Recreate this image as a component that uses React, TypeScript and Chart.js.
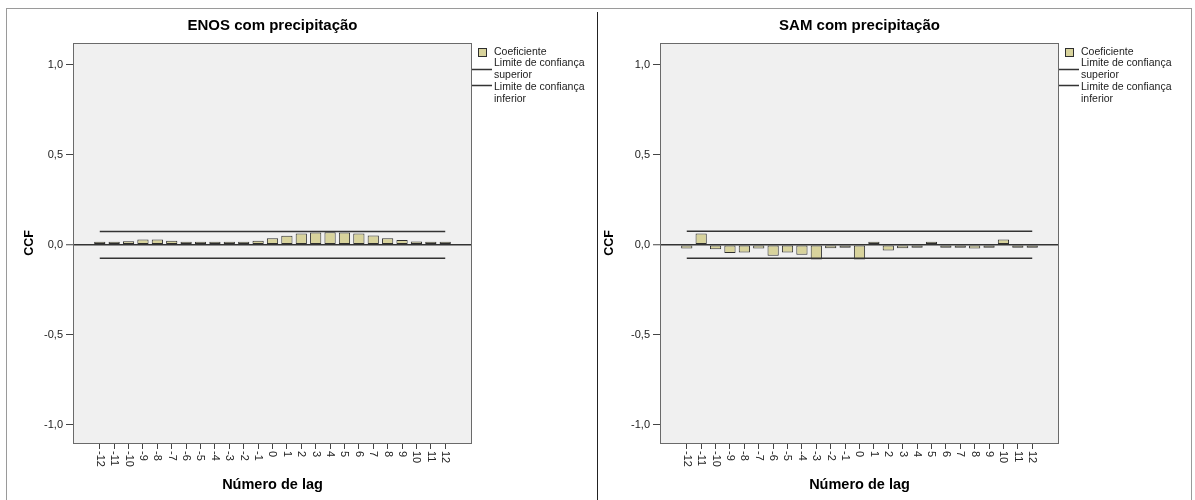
import React, { useEffect, useRef } from "react";
import { Chart, registerables } from "chart.js";

Chart.register(...registerables);

// ---------- data ----------
const lags = [-12, -11, -10, -9, -8, -7, -6, -5, -4, -3, -2, -1, 0, 1, 2, 3, 4, 5, 6, 7, 8, 9, 10, 11, 12];
const lagLabels = ["-12", "-11", "-10", "-9", "-8", "-7", "-6", "-5", "-4", "-3", "-2", "-1", "0", "1", "2", "3", "4", "5", "6", "7", "8", "9", "10", "11", "12"];

const enosCoef = [0.005, 0.01, 0.02, 0.03, 0.03, 0.022, 0.015, 0.011, 0.013, 0.013, 0.015, 0.022, 0.037, 0.05, 0.063, 0.068, 0.07, 0.068, 0.063, 0.052, 0.037, 0.026, 0.019, 0.011, 0.007];
const enosUpper = 0.074;
const enosLower = -0.074;

const samCoef = [-0.02, 0.063, -0.024, -0.046, -0.043, -0.02, -0.061, -0.043, -0.055, -0.081, -0.019, -0.003, -0.081, 0.011, -0.031, -0.019, -0.015, 0.007, -0.004, -0.004, -0.02, -0.016, 0.03, -0.005, -0.005];
const samUpper = 0.075;
const samLower = -0.075;

const yTicks = [-1, -0.5, 0, 0.5, 1];
const yTickLabels = ["-1,0", "-0,5", "0,0", "0,5", "1,0"];

const legendCoef = "Coeficiente";
const legendUpper = ["Limite de confiança", "superior"];
const legendLower = ["Limite de confiança", "inferior"];

const FONT = 'Arial, "Liberation Sans", sans-serif';
const BAR_FILL = "#d8d39c";
const BAR_EDGE = "#2f2f2f";
const LINE_COL = "#333333";

// ---------- plugin ----------
const panelPlugin = {
  id: "panel",
  beforeDraw(chart: any) {
    const { ctx, chartArea: a } = chart;
    ctx.save();
    ctx.fillStyle = "#f0f0f0";
    ctx.fillRect(a.left, a.top, a.right - a.left, a.bottom - a.top);
    ctx.restore();
  },
  afterDraw(chart: any, _args: any, opts: any) {
    const { ctx, chartArea: a } = chart;
    const xs = chart.scales.x;
    ctx.save();
    // plot border
    ctx.strokeStyle = "#6a6a6a";
    ctx.lineWidth = 1;
    ctx.strokeRect(Math.round(a.left) + 0.5, Math.round(a.top) + 0.5, Math.round(a.right - a.left) - 1, Math.round(a.bottom - a.top));

    // title
    ctx.fillStyle = "#000";
    ctx.font = `bold 15px ${FONT}`;
    ctx.textAlign = "center";
    ctx.textBaseline = "middle";
    ctx.fillText(opts.title, (a.left + a.right) / 2, 26);

    // x tick labels rotated clockwise
    ctx.font = `11px ${FONT}`;
    ctx.fillStyle = "#222";
    ctx.textAlign = "left";
    ctx.textBaseline = "middle";
    lags.forEach((v, i) => {
      const px = xs.getPixelForValue(v);
      ctx.save();
      ctx.translate(px, a.bottom + 8);
      ctx.rotate(Math.PI / 2);
      ctx.fillText(lagLabels[i], 0, 0);
      ctx.restore();
    });

    // legend
    const lx = Math.round(a.right);
    ctx.fillStyle = BAR_FILL;
    ctx.fillRect(lx + 6, 48, 9, 9);
    ctx.strokeStyle = BAR_EDGE;
    ctx.strokeRect(lx + 6.5, 48.5, 8, 8);
    ctx.font = `10.5px ${FONT}`;
    ctx.fillStyle = "#222";
    ctx.textAlign = "left";
    ctx.textBaseline = "middle";
    ctx.fillText(legendCoef, lx + 22, 52.5);
    ctx.strokeStyle = LINE_COL;
    ctx.lineWidth = 1.3;
    ctx.beginPath();
    ctx.moveTo(lx, 69.5);
    ctx.lineTo(lx + 20, 69.5);
    ctx.moveTo(lx, 85.5);
    ctx.lineTo(lx + 20, 85.5);
    ctx.stroke();
    ctx.fillText(legendUpper[0], lx + 22, 63.5);
    ctx.fillText(legendUpper[1], lx + 22, 75);
    ctx.fillText(legendLower[0], lx + 22, 87.5);
    ctx.fillText(legendLower[1], lx + 22, 99);
    ctx.restore();
  },
};

function makeConfig(title: string, coef: number[], upper: number, lower: number, padLeft: number, yWidth: number, padRight: number) {
  return {
    type: "bar" as const,
    data: {
      datasets: [
        {
          type: "line" as const,
          label: "upper",
          data: lags.map((x) => ({ x, y: upper })),
          borderColor: LINE_COL,
          borderWidth: 1.5,
          pointRadius: 0,
          order: 0,
        },
        {
          type: "line" as const,
          label: "lower",
          data: lags.map((x) => ({ x, y: lower })),
          borderColor: LINE_COL,
          borderWidth: 1.5,
          pointRadius: 0,
          order: 0,
        },
        {
          type: "bar" as const,
          label: "coef",
          data: lags.map((x, i) => ({ x, y: coef[i] })),
          backgroundColor: BAR_FILL,
          borderColor: BAR_EDGE,
          borderWidth: 1,
          borderSkipped: false,
          barPercentage: 0.78,
          categoryPercentage: 1,
          minBarLength: 3,
          order: 1,
        },
      ],
    },
    options: {
      responsive: false,
      animation: false,
      devicePixelRatio: 1,
      layout: { padding: { left: padLeft, right: padRight, top: 43, bottom: 0 } },
      plugins: {
        legend: { display: false },
        title: { display: false },
        tooltip: { enabled: false },
        panel: { title },
      },
      scales: {
        x: {
          type: "linear",
          min: -13.86,
          max: 13.86,
          offset: false,
          afterBuildTicks: (s: any) => {
            s.ticks = lags.map((v) => ({ value: v }));
          },
          afterFit: (s: any) => {
            s.height = 57;
          },
          ticks: { display: false },
          grid: {
            offset: false,
            drawOnChartArea: false,
            drawTicks: true,
            tickLength: 6,
            tickColor: "#444",
            tickWidth: 1,
          },
          border: { display: false },
          title: {
            display: true,
            text: "Número de lag",
            color: "#000",
            font: { family: FONT, size: 14.5, weight: "bold" },
            padding: { top: 0, bottom: 6 },
          },
        },
        y: {
          min: -1.1,
          max: 1.12,
          afterBuildTicks: (s: any) => {
            s.ticks = yTicks.map((v) => ({ value: v }));
          },
          afterFit: (s: any) => {
            s.width = yWidth;
          },
          ticks: {
            font: { family: FONT, size: 11 },
            color: "#222",
            padding: 3,
            callback: (_v: any, i: number) => yTickLabels[i],
          },
          grid: {
            drawOnChartArea: true,
            drawTicks: true,
            tickLength: 7,
            tickColor: "#444",
            tickWidth: 1,
            color: (c: any) => (c.tick && c.tick.value === 0 ? "#333" : "rgba(0,0,0,0)"),
            lineWidth: (c: any) => (c.tick && c.tick.value === 0 ? 1.5 : 1),
          },
          border: { display: false },
          title: {
            display: true,
            text: "CCF",
            color: "#000",
            font: { family: FONT, size: 12.5, weight: "bold" },
            padding: 0,
          },
        },
      },
    },
    plugins: [panelPlugin],
  };
}

function Panel(props: { left: number; width: number; cfg: any }) {
  const ref = useRef<HTMLCanvasElement>(null);
  useEffect(() => {
    const chart = new Chart(ref.current as HTMLCanvasElement, props.cfg);
    return () => chart.destroy();
  }, []);
  return (
    <canvas
      ref={ref}
      width={props.width}
      height={500}
      style={{ position: "absolute", left: props.left, top: 0, width: props.width, height: 500 }}
    />
  );
}

export default function App() {
  const leftCfg = makeConfig("ENOS com precipitação", enosCoef, enosUpper, enosLower, 22.5, 50.5, 125);
  const rightCfg = makeConfig("SAM com precipitação", samCoef, samUpper, samLower, 5.5, 57.5, 136);
  return (
    <div style={{ position: "absolute", left: 0, top: 0, width: 1195, height: 500, background: "#fff", overflow: "hidden" }}>
      <Panel left={0} width={597} cfg={leftCfg} />
      <Panel left={597} width={598} cfg={rightCfg} />
      <div style={{ position: "absolute", left: 6, top: 8, width: 1185, height: 1, background: "#9a9a9a" }} />
      <div style={{ position: "absolute", left: 6, top: 8, width: 1, height: 492, background: "#9a9a9a" }} />
      <div style={{ position: "absolute", left: 1191, top: 8, width: 1, height: 492, background: "#9a9a9a" }} />
      <div style={{ position: "absolute", left: 597, top: 12, width: 1, height: 488, background: "#222" }} />
    </div>
  );
}
